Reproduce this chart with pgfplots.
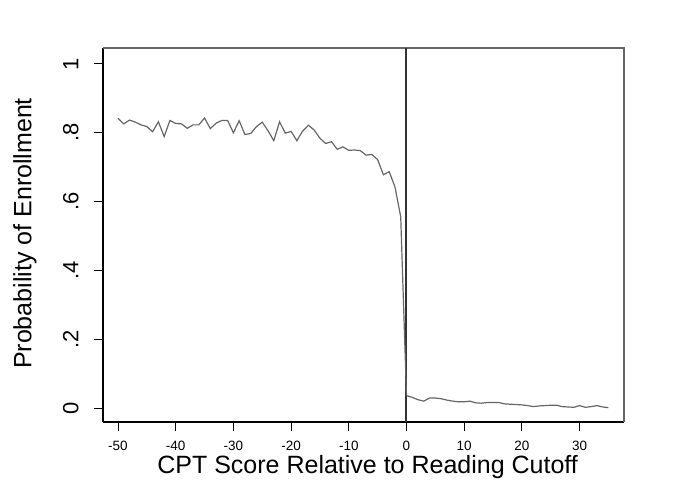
\documentclass[border=0pt]{standalone}
\usepackage{fontspec}
\setmainfont{Liberation Sans}
\usepackage{pgfplots}
\pgfplotsset{compat=1.18}

\pgfplotstableread{
x y
-50 0.842
-49 0.826
-48 0.837
-47 0.831
-46 0.823
-45 0.818
-44 0.803
-43 0.832
-42 0.789
-41 0.836
-40 0.827
-39 0.826
-38 0.813
-37 0.823
-36 0.823
-35 0.843
-34 0.812
-33 0.828
-32 0.836
-31 0.836
-30 0.800
-29 0.835
-28 0.795
-27 0.798
-26 0.818
-25 0.831
-24 0.806
-23 0.777
-22 0.832
-21 0.799
-20 0.804
-19 0.777
-18 0.805
-17 0.822
-16 0.808
-15 0.784
-14 0.769
-13 0.774
-12 0.752
-11 0.759
-10 0.749
-9 0.750
-8 0.748
-7 0.735
-6 0.737
-5 0.722
-4 0.678
-3 0.687
-2 0.643
-1 0.556
}\leftdata

\pgfplotstableread{
x y
0 0.036
1 0.031
2 0.024
3 0.020
4 0.029
5 0.029
6 0.027
7 0.023
8 0.020
9 0.018
10 0.018
11 0.020
12 0.015
13 0.014
14 0.016
15 0.016
16 0.016
17 0.012
18 0.011
19 0.010
20 0.009
21 0.007
22 0.004
23 0.006
24 0.007
25 0.008
26 0.008
27 0.004
28 0.003
29 0.002
30 0.007
31 0.002
32 0.004
33 0.007
34 0.003
35 0.001
}\rightdata

\begin{document}
\begin{tikzpicture}
\path[use as bounding box] (0,0) rectangle (683pt,488pt);
\begin{axis}[
    at={(103pt,66pt)}, anchor=south west,
    scale only axis,
    width=521pt, height=374pt,
    xmin=-52.6, xmax=37.7,
    ymin=-0.0407, ymax=1.0465,
    axis lines*=left,
    axis line style={-, black, line width=1.1pt},
    xtick={-50,-40,...,30},
    xticklabels={-50,-40,-30,-20,-10,0,10,20,30},
    ytick={0,0.2,0.4,0.6,0.8,1},
    yticklabels={0,.2,.4,.6,.8,1},
    tick align=outside,
    major tick length=9pt,
    tick style={black, line width=1pt},
    xticklabel style={font=\fontsize{13.5}{15}\selectfont, yshift=-7pt},
    yticklabel style={font=\fontsize{22}{24}\selectfont, rotate=90, anchor=south, yshift=12pt},
    xlabel={CPT Score Relative to Reading Cutoff},
    ylabel={Probability of Enrollment},
    label style={font=\fontsize{25}{27}\selectfont},
    xlabel style={at={(axis description cs:0.508,-0.138)}, anchor=base},
    ylabel style={at={(axis description cs:-0.150,0.504)}, anchor=center},
    clip=false,
]
\draw[black!60, line width=1.1pt] (rel axis cs:0,1) -- (rel axis cs:1,1) -- (rel axis cs:1,0);
\draw[black!80, line width=2pt] (axis cs:0,-0.0407) -- (axis cs:0,1.0465);
\addplot[black!60, line width=1.2pt, mark=none] table[x=x,y=y] {\leftdata};
\addplot[black!60, line width=1.2pt, mark=none, forget plot] coordinates {(-1,0.556) (0,0.036)};
\addplot[black!60, line width=1.2pt, mark=none] table[x=x,y=y] {\rightdata};
\end{axis}
\end{tikzpicture}
\end{document}
